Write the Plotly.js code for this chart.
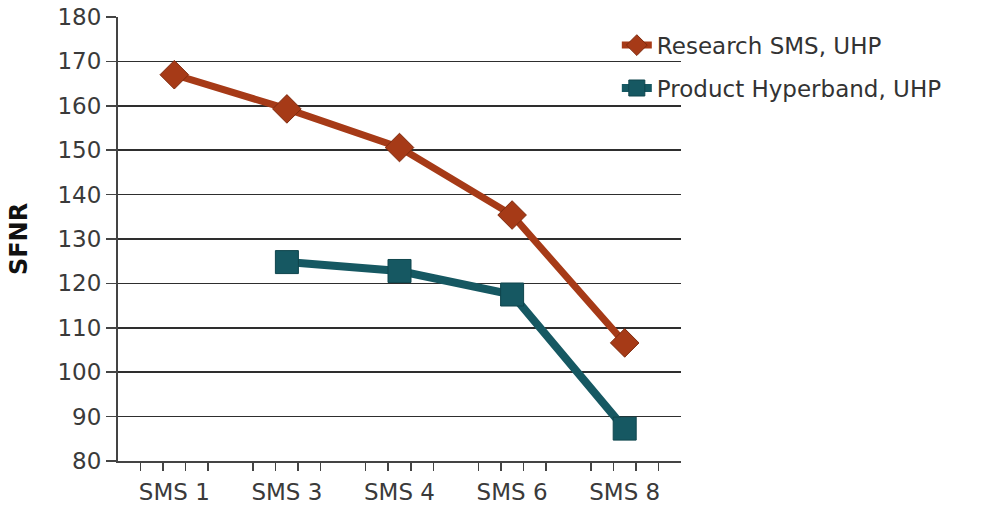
<!DOCTYPE html>
<html>
<head>
<meta charset="utf-8">
<script src="https://cdn.plot.ly/plotly-3.0.1.min.js"></script>
<style>html,body{margin:0;padding:0;background:#fff;}#chart{width:984px;height:505px;}</style>
</head>
<body>
<div id="chart"></div>
<script>
// Data
var categories = ["SMS 1", "SMS 3", "SMS 4", "SMS 6", "SMS 8"];
var researchSMS = [167, 159.3, 150.6, 135.4, 106.6];
var productHyperband = [null, 124.8, 122.8, 117.5, 87.3];
var seriesNames = ["Research SMS, UHP", "Product Hyperband, UHP"];
var yTicks = [80, 90, 100, 110, 120, 130, 140, 150, 160, 170, 180];

var idx = categories.map(function (c, i) { return i; });
// small tick marks inside each category band (4 per band, none at band edges)
var minorVals = [];
idx.forEach(function (k) { [-0.3, -0.1, 0.1, 0.3].forEach(function (d) { minorVals.push(k + d); }); });

var font = "'DejaVu Sans', sans-serif";
var xr = [-0.5, categories.length - 0.5];

var traces = [
  {
    x: idx, y: researchSMS, name: seriesNames[0], type: "scatter", mode: "lines+markers",
    legendgroup: "a", xaxis: "x", yaxis: "y",
    line: { color: "#A63A17", width: 7 },
    marker: { symbol: "diamond", size: 22, color: "#A63A17", line: { color: "#7E2A0E", width: 1 } }
  },
  {
    x: idx, y: productHyperband, name: seriesNames[1], type: "scatter", mode: "lines+markers",
    legendgroup: "b", xaxis: "x2", yaxis: "y",
    line: { color: "#165862", width: 8 },
    marker: { symbol: "square", size: 23, color: "#165862", line: { color: "#0f454d", width: 1 } }
  }
];

var layout = {
  width: 984, height: 505,
  margin: { l: 118, r: 303, t: 17, b: 44 },
  paper_bgcolor: "#fff", plot_bgcolor: "#fff",
  font: { family: font, color: "#3a3a3a", size: 20 },
  showlegend: true,
  legend: {
    x: 0.886, y: 0.985, xanchor: "left", yanchor: "top",
    bgcolor: "rgba(0,0,0,0)", font: { family: font, size: 23, color: "#333" },
    tracegroupgap: 10, traceorder: "grouped"
  },
  xaxis: {
    range: xr,
    tickmode: "array", tickvals: minorVals, showticklabels: false,
    ticks: "outside", ticklen: 8, tickwidth: 1.5, tickcolor: "#444",
    showgrid: false, zeroline: false,
    showline: true, linecolor: "#444", linewidth: 2,
    fixedrange: true
  },
  xaxis2: {
    range: xr, overlaying: "x", anchor: "y", side: "bottom",
    tickmode: "array", tickvals: idx, ticktext: categories,
    ticks: "", showgrid: false, zeroline: false, showline: false,
    ticklabelstandoff: 15,
    tickfont: { family: font, size: 23, color: "#3a3a3a" },
    fixedrange: true
  },
  yaxis: {
    range: [80, 180],
    tickmode: "array", tickvals: yTicks,
    ticks: "outside", ticklen: 10, tickwidth: 1.5, tickcolor: "#444",
    showgrid: true, gridcolor: "#2e2e2e", gridwidth: 1.6,
    zeroline: false, showline: true, linecolor: "#444", linewidth: 2,
    tickfont: { family: font, size: 23, color: "#3a3a3a" },
    title: { text: "<b>SFNR</b>", font: { family: font, size: 24, color: "#111" }, standoff: 23 },
    fixedrange: true
  }
};

Plotly.newPlot("chart", traces, layout, { displayModeBar: false, staticPlot: true });
</script>
</body>
</html>
